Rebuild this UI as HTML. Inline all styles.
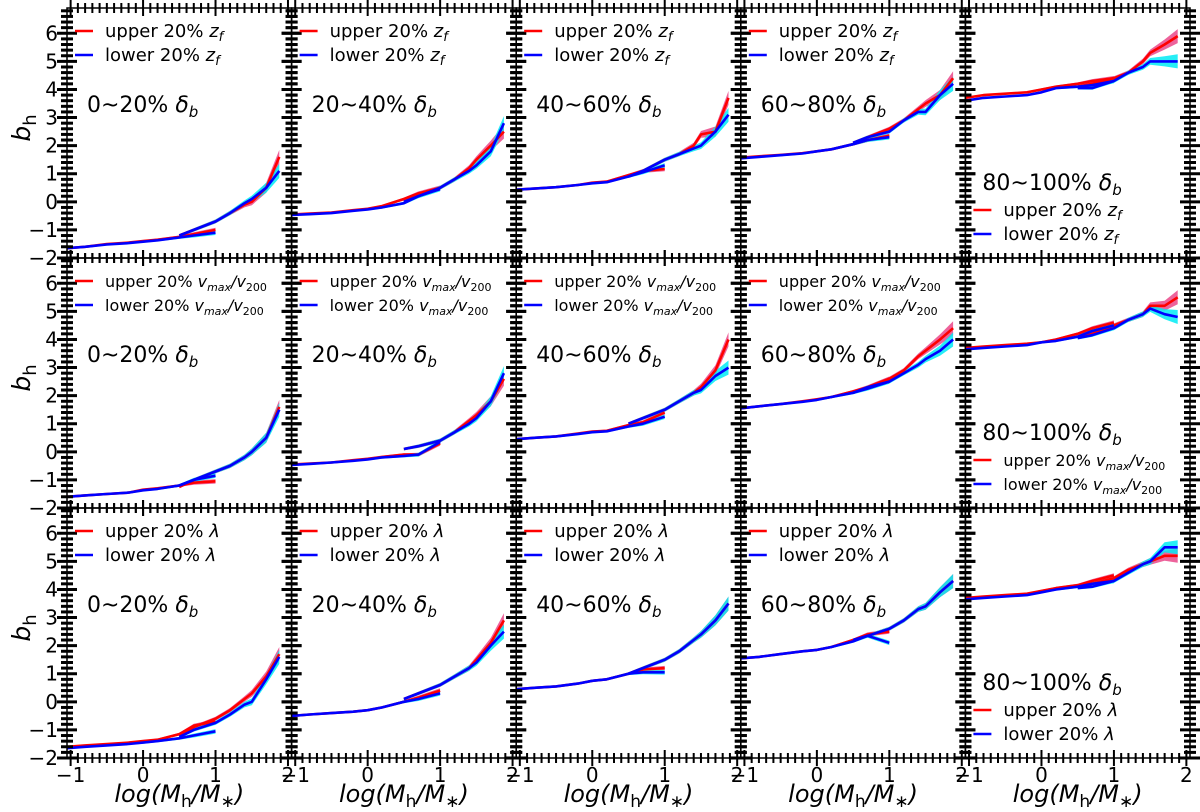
<!DOCTYPE html>
<html><head><meta charset="utf-8">
<style>
html,body{margin:0;padding:0;background:#fff;}
svg{display:block;font-family:"DejaVu Sans","Liberation Sans",sans-serif;}
</style></head>
<body>
<svg id="fig" width="1200" height="812" viewBox="0 0 1200 812" xmlns="http://www.w3.org/2000/svg"></svg>
<script>
const xA = [-1.05,-0.8,-0.5,-0.2,0,0.2,0.5,0.7,1.0];
const xB = [0.5,0.7,1.0,1.2,1.4,1.5,1.7,1.88];
const errA = [0.03,0.03,0.03,0.03,0.04,0.04,0.05,0.07,0.08];
const errB = [0.05,0.06,0.07,0.08,0.1,0.12,0.18,0.25];
const binLabels = ["0~20%","20~40%","40~60%","60~80%","80~100%"];
const propNames = ["zf","vmax","lambda"];
const redA = [
 [[-1.65,-1.6,-1.5,-1.45,-1.4,-1.35,-1.25,-1.15,-1.0],[-0.45,-0.42,-0.38,-0.3,-0.25,-0.15,0.1,0.3,0.5],[0.43,0.47,0.52,0.6,0.68,0.72,0.95,1.1,1.17],[1.57,1.62,1.67,1.73,1.8,1.87,2.05,2.2,2.35],[3.7,3.8,3.85,3.9,4.0,4.1,4.2,4.3,4.4]],
 [[-1.6,-1.55,-1.5,-1.45,-1.35,-1.3,-1.2,-1.1,-1.05],[-0.45,-0.42,-0.38,-0.3,-0.25,-0.18,-0.1,-0.1,0.3],[0.45,0.5,0.55,0.65,0.72,0.75,0.95,1.05,1.4],[1.55,1.62,1.7,1.8,1.87,1.95,2.15,2.3,2.6],[3.7,3.75,3.8,3.85,3.9,4.0,4.2,4.4,4.6]],
 [[-1.6,-1.55,-1.5,-1.45,-1.4,-1.35,-1.15,-0.85,-0.7],[-0.5,-0.45,-0.4,-0.35,-0.3,-0.2,0.0,0.15,0.4],[0.45,0.5,0.55,0.65,0.75,0.8,1.0,1.15,1.2],[1.55,1.6,1.7,1.8,1.85,1.95,2.2,2.4,2.5],[3.7,3.75,3.8,3.85,3.95,4.05,4.15,4.3,4.5]]
];
const blueA = [
 [[-1.65,-1.6,-1.52,-1.47,-1.42,-1.37,-1.27,-1.2,-1.1],[-0.47,-0.44,-0.4,-0.32,-0.27,-0.2,-0.05,0.2,0.45],[0.43,0.47,0.52,0.6,0.66,0.7,0.9,1.05,1.3],[1.55,1.6,1.66,1.72,1.8,1.87,2.05,2.2,2.3],[3.6,3.7,3.75,3.8,3.9,4.05,4.1,4.15,4.3]],
 [[-1.6,-1.55,-1.5,-1.45,-1.37,-1.32,-1.2,-1.0,-0.85],[-0.47,-0.43,-0.38,-0.32,-0.27,-0.2,-0.15,-0.1,0.35],[0.45,0.5,0.55,0.63,0.7,0.73,0.9,1.0,1.25],[1.55,1.62,1.7,1.78,1.85,1.95,2.1,2.25,2.5],[3.65,3.7,3.75,3.8,3.9,3.95,4.1,4.3,4.5]],
 [[-1.65,-1.6,-1.55,-1.5,-1.45,-1.4,-1.3,-1.2,-1.05],[-0.5,-0.45,-0.4,-0.35,-0.3,-0.2,0.0,0.1,0.3],[0.45,0.5,0.55,0.65,0.75,0.8,1.0,1.05,1.05],[1.55,1.6,1.7,1.8,1.85,1.95,2.15,2.35,2.1],[3.65,3.7,3.75,3.8,3.9,4.0,4.1,4.2,4.3]]
];
const redB = [
 [[-1.2,-1.0,-0.7,-0.4,-0.1,0.0,0.5,1.6],[0.0,0.2,0.5,0.8,1.2,1.5,2.0,2.5],[0.9,1.1,1.5,1.7,2.0,2.4,2.5,3.7],[2.1,2.3,2.6,2.9,3.3,3.5,3.8,4.4],[4.1,4.2,4.4,4.6,5.0,5.3,5.6,5.9]],
 [[-1.25,-1.0,-0.7,-0.5,-0.2,0.0,0.5,1.6],[0.1,0.2,0.4,0.7,1.1,1.3,1.8,2.6],[1.0,1.2,1.5,1.8,2.1,2.3,2.9,4.0],[2.1,2.3,2.6,2.9,3.4,3.6,4.0,4.4],[4.1,4.2,4.5,4.7,4.9,5.2,5.2,5.5]],
 [[-1.2,-0.9,-0.6,-0.3,0.1,0.3,0.9,1.7],[0.1,0.3,0.6,0.9,1.2,1.5,2.1,2.9],[1.0,1.2,1.5,1.8,2.2,2.4,2.9,3.5],[2.2,2.35,2.6,2.9,3.3,3.4,3.9,4.3],[4.1,4.2,4.4,4.7,4.9,5.0,5.2,5.2]]
];
const blueB = [
 [[-1.2,-1.0,-0.7,-0.4,-0.05,0.1,0.5,1.1],[0.0,0.2,0.5,0.8,1.1,1.3,1.8,2.8],[0.9,1.1,1.5,1.7,1.9,2.0,2.5,3.1],[2.1,2.3,2.5,2.9,3.2,3.2,3.8,4.2],[4.05,4.05,4.3,4.6,4.8,5.0,5.0,5.0]],
 [[-1.2,-1.0,-0.7,-0.5,-0.2,0.0,0.5,1.5],[0.1,0.2,0.4,0.7,1.0,1.2,1.8,2.8],[1.0,1.2,1.5,1.8,2.1,2.2,2.7,3.0],[2.1,2.3,2.5,2.8,3.1,3.3,3.6,4.0],[4.05,4.15,4.4,4.7,4.9,5.1,4.9,4.8]],
 [[-1.25,-1.0,-0.75,-0.45,-0.1,0.0,0.8,1.6],[0.1,0.3,0.6,0.9,1.2,1.4,2.0,2.5],[1.0,1.2,1.5,1.8,2.2,2.4,2.9,3.5],[2.2,2.35,2.6,2.9,3.3,3.4,3.9,4.3],[4.05,4.1,4.3,4.6,4.9,5.0,5.5,5.5]]
];
const yTicks = [-2,-1,0,1,2,3,4,5,6];
const xTicks = [-1,0,1,2];

const NS = "http://www.w3.org/2000/svg";
const svg = document.getElementById('fig');
const L0 = 67, PW = 224.6, T0 = 8, PH = 250;
const XMIN = -1.05, XMAX = 2.05, YMIN = -2, YMAX = 6.9;
function sx(c, x){ return L0 + c*PW + (x - XMIN)/(XMAX - XMIN)*PW; }
function sy(r, v){ return T0 + r*PH + (YMAX - v)/(YMAX - YMIN)*PH; }
function mk(tag, attrs, parent){
  const e = document.createElementNS(NS, tag);
  for (const k in attrs) e.setAttribute(k, attrs[k]);
  (parent || svg).appendChild(e);
  return e;
}
function band(r, c, xs, ys, es, color, g){
  let d = "";
  xs.forEach((x,i)=>{ d += (i?"L":"M") + sx(c,x).toFixed(1)+","+sy(r,ys[i]+es[i]).toFixed(1); });
  for (let i = xs.length-1; i>=0; i--) d += "L"+sx(c,xs[i]).toFixed(1)+","+sy(r,ys[i]-es[i]).toFixed(1);
  const p = mk('path', {d: d+"Z", fill: color, stroke: 'none'}, g);
  
  
}
function line(r, c, xs, ys, color, g, name){
  const pts = xs.map((x,i)=>sx(c,x).toFixed(1)+","+sy(r,ys[i]).toFixed(1)).join(" ");
  const p = mk('polyline', {points: pts, fill:'none', stroke: color, 'stroke-width': 2.6, 'stroke-linejoin':'round'}, g);
  
  
}
function legendLabel(t, which, prop, x, y){
  const fs = prop === 'vmax' ? 16 : 18;
  const ss = prop === 'vmax' ? 11 : 13;
  const tx = mk('text', {x: x, y: y, 'font-size': fs, fill: '#000'}, t);
  tx.appendChild(document.createTextNode(which + " 20% "));
  if (prop === 'zf'){
    const a = mk('tspan', {'font-style':'italic'}, tx); a.textContent = 'z';
    const b = mk('tspan', {'font-style':'italic','font-size':ss, dy: 4}, tx); b.textContent = 'f';
  } else if (prop === 'vmax'){
    const a = mk('tspan', {'font-style':'italic'}, tx); a.textContent = 'v';
    const b = mk('tspan', {'font-style':'italic','font-size':ss, dy: 4}, tx); b.textContent = 'max';
    const c2 = mk('tspan', {'font-style':'italic', dy: -4}, tx); c2.textContent = '/v';
    const d = mk('tspan', {'font-size':ss, dy: 4}, tx); d.textContent = '200';
  } else {
    const a = mk('tspan', {'font-style':'italic'}, tx); a.textContent = 'λ';
  }
  return tx;
}

for (let r = 0; r < 3; r++){
  for (let c = 0; c < 5; c++){
    const g = mk('g', {});
    
    
    const L = L0 + c*PW, T = T0 + r*PH;
    band(r,c,xA,redA[r][c],errA,'rgba(232,60,130,0.8)',g);
    band(r,c,xB,redB[r][c],errB,'rgba(232,60,130,0.8)',g);
    band(r,c,xA,blueA[r][c],errA,'rgba(0,235,245,0.85)',g);
    band(r,c,xB,blueB[r][c],errB,'rgba(0,235,245,0.85)',g);
    line(r,c,xA,redA[r][c],'#ff0000',g,'upper-line-low-mass');
    line(r,c,xB,redB[r][c],'#ff0000',g,'upper-line-high-mass');
    line(r,c,xA,blueA[r][c],'#0000ff',g,'lower-line-low-mass');
    line(r,c,xB,blueB[r][c],'#0000ff',g,'lower-line-high-mass');
    const tk = mk('g', {stroke:'#000'}, g);
    
    
    for (let k = 0; k <= 44; k++){
      const v = -2 + k*0.2; if (v > YMAX) break;
      const y = sy(r, v);
      const major = Math.abs(v - Math.round(v)) < 1e-6;
      const h = major ? 10 : 6;
      mk('line', {x1: L-h, x2: L+h, y1: y, y2: y, 'stroke-width': 3}, tk);
      mk('line', {x1: L+PW-h, x2: L+PW+h, y1: y, y2: y, 'stroke-width': 3}, tk);
    }
    for (let k = -10; k <= 20; k++){
      const v = k*0.1;
      const x = sx(c, v);
      const major = k % 10 === 0;
      const h = major ? 8 : 5;
      mk('line', {x1: x, x2: x, y1: T+PH-h, y2: T+PH+h, 'stroke-width': 2}, tk);
      mk('line', {x1: x, x2: x, y1: T-h, y2: T+h, 'stroke-width': 2}, tk);
    }
    const fr = mk('rect', {x: L, y: T, width: PW, height: PH, fill:'none', stroke:'#000', 'stroke-width': 1.5}, g);
    
    
    const lg = mk('g', {}, g);
    
    
    let ly = (c === 4) ? T + 208 : T + 29;
    mk('line', {x1: L+8, x2: L+26, y1: ly-6, y2: ly-6, stroke:'#ff0000','stroke-width':2.6}, lg);
    legendLabel(lg, 'upper', propNames[r], L+38, ly);
    mk('line', {x1: L+8, x2: L+26, y1: ly+18, y2: ly+18, stroke:'#0000ff','stroke-width':2.6}, lg);
    legendLabel(lg, 'lower', propNames[r], L+38, ly+24);
    const bx = (c === 4) ? L + 17 : L + 20;
    const by = (c === 4) ? T + 182 : T + 104;
    const bl = mk('text', {x: bx, y: by, 'font-size': 22, fill:'#000'}, g);
    
    
    bl.appendChild(document.createTextNode(binLabels[c] + " "));
    const d1 = mk('tspan', {'font-style':'italic'}, bl); d1.textContent = 'δ';
    const d2 = mk('tspan', {'font-style':'italic','font-size':15, dy: 5}, bl); d2.textContent = 'b';
    if (r === 2){
      xTicks.forEach(v=>{
        const t = mk('text', {x: sx(c,v), y: T+PH+24, 'font-size': 20, 'text-anchor':'middle', fill:'#000'}, g);
        
        
        t.textContent = v < 0 ? '−' + Math.abs(v) : String(v);
      });
      const xl = mk('text', {x: L + PW/2, y: T+PH+44, 'font-size': 24, 'text-anchor':'middle', fill:'#000'}, g);
      
      
      const a1 = mk('tspan', {'font-style':'italic'}, xl); a1.textContent = 'log(M';
      const a2 = mk('tspan', {'font-size':17, dy: 5}, xl); a2.textContent = 'h';
      const a3 = mk('tspan', {'font-style':'italic', dy: -5}, xl); a3.textContent = '/M';
      const a4 = mk('tspan', {'font-size':17, dy: 5}, xl); a4.textContent = '∗';
      const a5 = mk('tspan', {'font-style':'italic', dy: -5}, xl); a5.textContent = ')';
    }
    if (c === 0){
      yTicks.forEach(v=>{
        const t = mk('text', {x: L-9, y: sy(r,v)+7, 'font-size': 20, 'text-anchor':'end', fill:'#000'}, g);
        
        
        t.textContent = v < 0 ? '−' + Math.abs(v) : String(v);
      });
      const yl = mk('text', {x: 0, y: 0, 'font-size': 25, 'text-anchor':'middle', fill:'#000', transform: 'translate(30,'+(T+PH/2-5)+') rotate(-90)'}, g);
      
      
      const b1 = mk('tspan', {'font-style':'italic'}, yl); b1.textContent = 'b';
      const b2 = mk('tspan', {'font-size':18, dy: 6}, yl); b2.textContent = 'h';
    }
  }
}
</script>
</body></html>
